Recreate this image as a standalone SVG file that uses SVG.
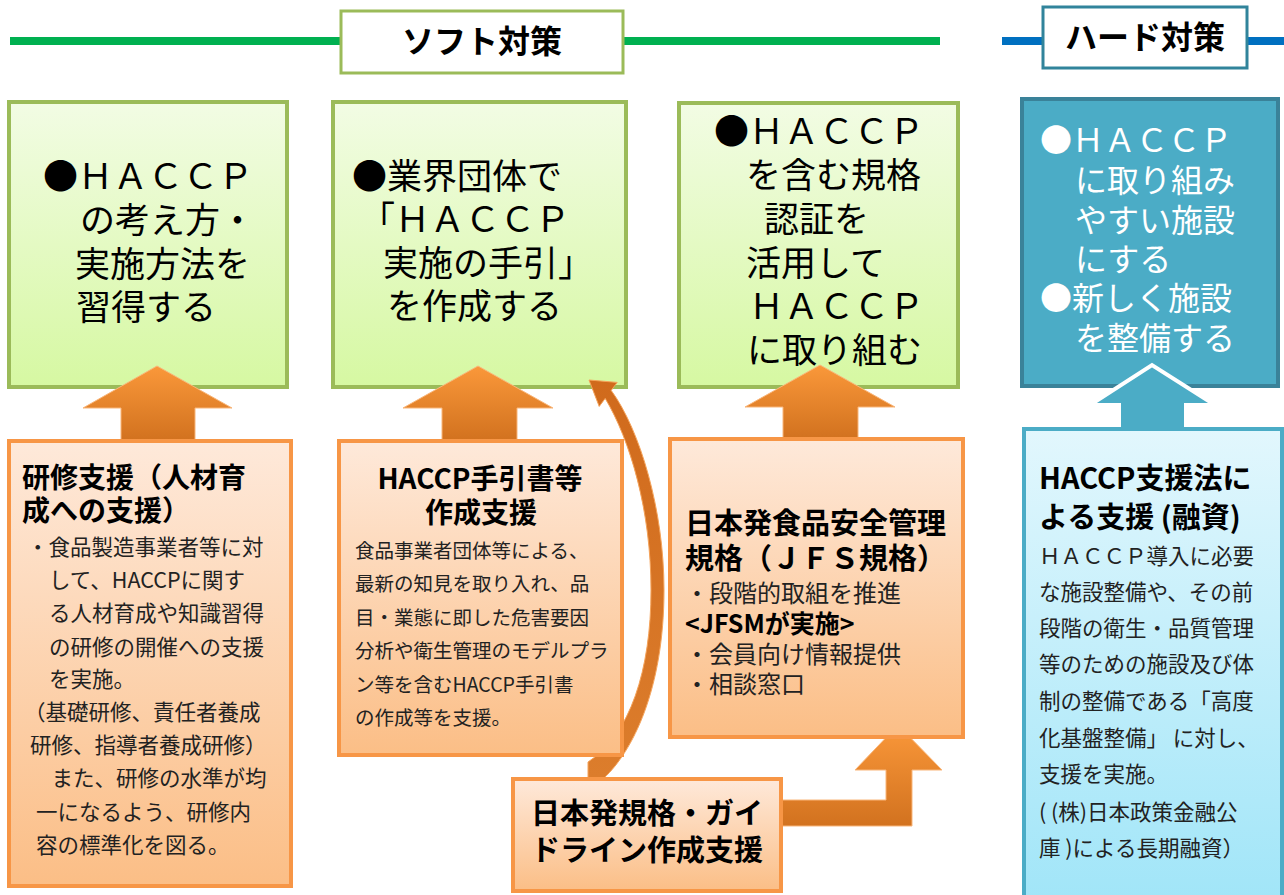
<svg xmlns="http://www.w3.org/2000/svg" width="1284" height="895" viewBox="0 0 1284 895">
<defs>
<linearGradient id="gGreen" x1="0" y1="0" x2="0" y2="1"><stop offset="0" stop-color="#F2FCE4"/><stop offset="1" stop-color="#D6F8A2"/></linearGradient>
<linearGradient id="gOrange" x1="0" y1="0" x2="0" y2="1"><stop offset="0" stop-color="#FEE9DA"/><stop offset="1" stop-color="#FBBE86"/></linearGradient>
<linearGradient id="gBlue" x1="0" y1="0" x2="0" y2="1"><stop offset="0" stop-color="#E2F7FD"/><stop offset="1" stop-color="#A0E5F8"/></linearGradient>
<linearGradient id="gArrow" x1="0" y1="0" x2="0" y2="1"><stop offset="0" stop-color="#FA983A"/><stop offset="1" stop-color="#D2721F"/></linearGradient>
<linearGradient id="gCurve" x1="0" y1="0" x2="0" y2="1"><stop offset="0" stop-color="#D06A1C"/><stop offset="1" stop-color="#DC7D2C"/></linearGradient>
<style>
text{font-family:'Noto Sans CJK JP','Noto Sans',sans-serif;fill:#000}
.big{font-size:35px}
.hard{font-size:32px;fill:#fff}
.hdr{font-size:32px;font-weight:bold}
.bt{font-size:28px;font-weight:bold}
.s21{font-size:21.5px;fill:#222}
.s20{font-size:19.5px;fill:#222}
.s24{font-size:24px;fill:#222}
.gbox{fill:url(#gGreen);stroke:#9BBB59;stroke-width:4}
.obox{fill:url(#gOrange);stroke:#F79646;stroke-width:4}
.oarrow{fill:url(#gArrow);stroke:#F9B67A;stroke-width:1}
</style>
</defs>
<rect width="1284" height="895" fill="#fff"/>

<g id="header-soft">
<line x1="10" y1="41" x2="940" y2="41" stroke="#00B050" stroke-width="8"/>
<rect x="341" y="11" width="282" height="62" fill="#fff" stroke="#9BBB59" stroke-width="3"/>
<text class="hdr" x="482" y="53" text-anchor="middle">ソフト対策</text>
</g>
<g id="header-hard">
<line x1="1002" y1="41" x2="1284" y2="41" stroke="#0070C0" stroke-width="8"/>
<rect x="1043" y="7" width="204" height="61" fill="#fff" stroke="#31849B" stroke-width="3"/>
<text class="hdr" x="1145" y="49" text-anchor="middle">ハード対策</text>
</g>

<g id="goal1">
<rect class="gbox" x="9" y="102" width="278" height="285"/>
<text class="big" x="43" y="189">●ＨＡＣＣＰ</text>
<text class="big" x="80" y="233">の考え方・</text>
<text class="big" x="75" y="277">実施方法を</text>
<text class="big" x="76" y="320">習得する</text>
</g>
<g id="goal2">
<rect class="gbox" x="333" y="102" width="293" height="285"/>
<text class="big" x="352" y="189">●業界団体で</text>
<text class="big" x="360" y="232">「ＨＡＣＣＰ</text>
<text class="big" x="383" y="276">実施の手引」</text>
<text class="big" x="387" y="319">を作成する</text>
</g>
<g id="goal3">
<rect class="gbox" x="679" y="103" width="279" height="284"/>
<text class="big" x="714" y="144">●ＨＡＣＣＰ</text>
<text class="big" x="746" y="188">を含む規格</text>
<text class="big" x="764" y="232">認証を</text>
<text class="big" x="746" y="276">活用して</text>
<text class="big" x="749" y="319">ＨＡＣＣＰ</text>
<text class="big" x="747" y="363">に取り組む</text>
</g>
<g id="goal4">
<rect x="1022" y="99" width="256" height="287" fill="#4BACC6" stroke="#3A8299" stroke-width="4"/>
<text class="hard" x="1040" y="152">●ＨＡＣＣＰ</text>
<text class="hard" x="1075" y="192">に取り組み</text>
<text class="hard" x="1075" y="232">やすい施設</text>
<text class="hard" x="1075" y="271">にする</text>
<text class="hard" x="1040" y="310">●新しく施設</text>
<text class="hard" x="1075" y="350">を整備する</text>
</g>

<g id="connectors">
<path class="oarrow" d="M121 440 L121 408 L83 408 L157 366 L232 408 L195 408 L195 440 Z"/>
<path class="oarrow" d="M442 440 L442 408 L403 408 L478 366 L553 408 L517 408 L517 440 Z"/>
<path class="oarrow" d="M783 438 L783 407 L745 407 L820 365 L895 407 L858 407 L858 438 Z"/>
<path d="M1119 432 L1119 405 L1090 405 L1152 365 L1215 405 L1186 405 L1186 432 Z" fill="#4BACC6" stroke="#fff" stroke-width="4" stroke-linejoin="miter"/>
<path d="M605.2 398.4 L599.2 406.4 L589 380 L617.2 382.4 L611.2 390.4 C640 430 664 510 664 590 C664 690 632 752 604 778 L588 778 L588 762 C630 735 651 670 651 590 C651 510 630 440 605.2 398.4 Z" fill="url(#gCurve)" stroke="#F5A35A" stroke-width="1"/>
<path class="oarrow" d="M782 800 L886 800 L886 770 L855 770 L898 725 L942 770 L912 770 L912 826 L782 826 Z"/>
</g>

<g id="support1">
<rect class="obox" x="9" y="441" width="282" height="445"/>
<text class="bt" x="22" y="488">研修支援（人材育</text>
<text class="bt" x="22" y="521">成への支援）</text>
<text class="s21" x="27" y="555">・食品製造事業者等に対</text>
<text class="s21" x="49" y="588">して、HACCPに関す</text>
<text class="s21" x="49" y="621">る人材育成や知識習得</text>
<text class="s21" x="49" y="655">の研修の開催への支援</text>
<text class="s21" x="49" y="687">を実施。</text>
<text class="s21" x="24" y="720">（基礎研修、責任者養成</text>
<text class="s21" x="30" y="753">研修、指導者養成研修）</text>
<text class="s21" x="30" y="786">　また、研修の水準が均</text>
<text class="s21" x="36" y="820">一になるよう、研修内</text>
<text class="s21" x="36" y="853">容の標準化を図る。</text>
</g>
<g id="support2">
<rect class="obox" x="339" y="441" width="283" height="314"/>
<text class="bt" x="480" y="489" text-anchor="middle">HACCP手引書等</text>
<text class="bt" x="481" y="523" text-anchor="middle">作成支援</text>
<text class="s20" x="355" y="558">食品事業者団体等による、</text>
<text class="s20" x="355" y="591">最新の知見を取り入れ、品</text>
<text class="s20" x="355" y="625">目・業態に即した危害要因</text>
<text class="s20" x="355" y="658">分析や衛生管理のモデルプラ</text>
<text class="s20" x="355" y="692">ン等を含むHACCP手引書</text>
<text class="s20" x="355" y="725">の作成等を支援。</text>
</g>
<g id="support3">
<rect class="obox" x="670" y="439" width="293" height="298"/>
<text class="bt" x="685" y="534" style="font-size:29px">日本発食品安全管理</text>
<text class="bt" x="685" y="569" style="font-size:29px">規格（ＪＦＳ規格）</text>
<text class="s24" x="685" y="602">・段階的取組を推進</text>
<text class="bt" x="685" y="633" style="font-size:25px">&lt;JFSMが実施&gt;</text>
<text class="s24" x="685" y="663">・会員向け情報提供</text>
<text class="s24" x="685" y="693">・相談窓口</text>
</g>
<g id="support4">
<rect x="1024" y="429" width="258" height="480" fill="url(#gBlue)" stroke="#4BACC6" stroke-width="4"/>
<text class="bt" x="1039" y="489" style="font-size:29px">HACCP支援法に</text>
<text class="bt" x="1039" y="528" style="font-size:29px">よる支援 (融資)</text>
<text class="s21" x="1039" y="564">ＨＡＣＣＰ導入に必要</text>
<text class="s21" x="1039" y="600">な施設整備や、その前</text>
<text class="s21" x="1039" y="636">段階の衛生・品質管理</text>
<text class="s21" x="1039" y="672">等のための施設及び体</text>
<text class="s21" x="1039" y="709">制の整備である「高度</text>
<text class="s21" x="1039" y="746">化基盤整備」 に対し、</text>
<text class="s21" x="1039" y="782">支援を実施。</text>
<text class="s21" x="1039" y="820">( (株)日本政策金融公</text>
<text class="s21" x="1039" y="856">庫 )による長期融資）</text>
</g>
<g id="support5">
<rect class="obox" x="513" y="779" width="268" height="112"/>
<text class="bt" x="647" y="824" text-anchor="middle" style="font-size:29px">日本発規格・ガイ</text>
<text class="bt" x="647" y="861" text-anchor="middle" style="font-size:29px">ドライン作成支援</text>
</g>
</svg>
